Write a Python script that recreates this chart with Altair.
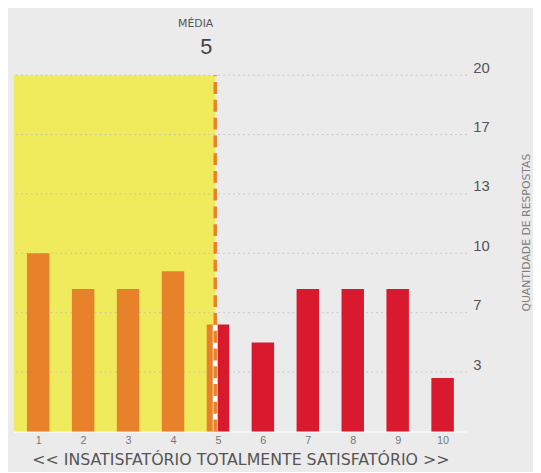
import altair as alt
import pandas as pd

# --- data ---
categories = [1, 2, 3, 4, 5, 6, 7, 8, 9, 10]
responses = [10, 8, 8, 9, 6, 5, 8, 8, 8, 3]
tick_values = [10/3, 20/3, 10, 40/3, 50/3, 20]
mean_position = 4.94
mean_label = "5"
y_max = 20

ORANGE = "#E8822A"
RED = "#D91A2E"
YELLOW = "#F0EB5C"
BG = "#EBEBEB"
FONT = "Liberation Sans"
WIDE = "DejaVu Sans"

half = 0.25
x_lo_dom, x_hi_dom = 0.46, 10.54

# bars, split at the mean line
rows = []
for c, v in zip(categories, responses):
    lo, hi = c - half, c + half
    if hi <= mean_position:
        rows.append(dict(x=lo, x2=hi, v=v, col=ORANGE))
    elif lo >= mean_position:
        rows.append(dict(x=lo, x2=hi, v=v, col=RED))
    else:
        rows.append(dict(x=lo, x2=mean_position, v=v, col=ORANGE))
        rows.append(dict(x=mean_position, x2=hi, v=v, col=RED))
bars_df = pd.DataFrame(rows)

xs = alt.Scale(domain=[x_lo_dom, x_hi_dom], nice=False, zero=False)
ys = alt.Scale(domain=[0, y_max], nice=False)

rect_df = pd.DataFrame([dict(x=x_lo_dom, x2=mean_position, y=0, y2=y_max)])
yellow = alt.Chart(rect_df).mark_rect(color=YELLOW).encode(
    x=alt.X("x:Q", scale=xs, axis=alt.Axis(
        values=categories, format="d", ticks=False, grid=False,
        domainColor="#F6F6F6", domainWidth=2,
        labelFontSize=11, labelColor="#777777", labelPadding=3, labelFont=FONT,
        title="<< INSATISFATÓRIO   TOTALMENTE SATISFATÓRIO >>",
        titleFontSize=16, titleColor="#555555", titleFontWeight="normal",
        titleFont=WIDE, titleY=34, titleBaseline="alphabetic")),
    x2="x2:Q",
    y=alt.Y("y:Q", scale=ys, axis=alt.Axis(
        orient="right", values=tick_values, format=".0f", ticks=False,
        grid=False, domain=False, labelFontSize=15, labelColor="#555555",
        labelFont=FONT, labelBaseline="bottom", labelPadding=6,
        title="QUANTIDADE DE RESPOSTAS", titleAngle=270, titleFontSize=11,
        titleColor="#808080", titleFontWeight="normal", titleFont=WIDE,
        titleX=60, titleY=159, titleAlign="center", titleBaseline="middle")),
    y2="y2:Q",
)

grid_df = pd.DataFrame({"t": tick_values})
grid = alt.Chart(grid_df).mark_rule(
    color="#BBBBBB", strokeDash=[2, 3], strokeWidth=1, opacity=0.7
).encode(y=alt.Y("t:Q", scale=ys))

bars = alt.Chart(bars_df).mark_rect().encode(
    x=alt.X("x:Q", scale=xs), x2="x2:Q",
    y=alt.Y("v:Q", scale=ys), y2=alt.datum(0),
    color=alt.Color("col:N", scale=None),
)

mean_bar_value = responses[categories.index(5)]
line_df = pd.DataFrame([dict(x=mean_position, y=0, y2=y_max, yb=mean_bar_value)])
white_line = alt.Chart(line_df).mark_rule(color="white", strokeWidth=5).encode(
    x=alt.X("x:Q", scale=xs), y=alt.Y("y:Q", scale=ys), y2="yb:Q")
dashed = alt.Chart(line_df).mark_rule(
    color=ORANGE, strokeWidth=3.5, strokeDash=[12, 6]
).encode(x=alt.X("x:Q", scale=xs), y=alt.Y("y:Q", scale=ys), y2="y2:Q")

label_df = pd.DataFrame([dict(x=mean_position, t1="MÉDIA", t2=mean_label)])
media = alt.Chart(label_df).mark_text(
    align="right", baseline="middle", fontSize=11, color="#555555", font=WIDE,
    dx=-2
).encode(x=alt.X("x:Q", scale=xs), y=alt.value(-52), text="t1:N")
media_val = alt.Chart(label_df).mark_text(
    align="right", baseline="middle", fontSize=22, color="#444444", font=FONT,
    dx=-3
).encode(x=alt.X("x:Q", scale=xs), y=alt.value(-28), text="t2:N")

chart = alt.layer(yellow, grid, bars, white_line, dashed, media, media_val).properties(
    width=459, height=361,
    background=BG,
    padding={"left": 6, "top": 65, "right": 67, "bottom": 38},
    autosize=alt.AutoSizeParams(type="none"),
).configure_view(stroke=None)

chart.save("out.html", embed_options={"renderer": "svg", "actions": False})
